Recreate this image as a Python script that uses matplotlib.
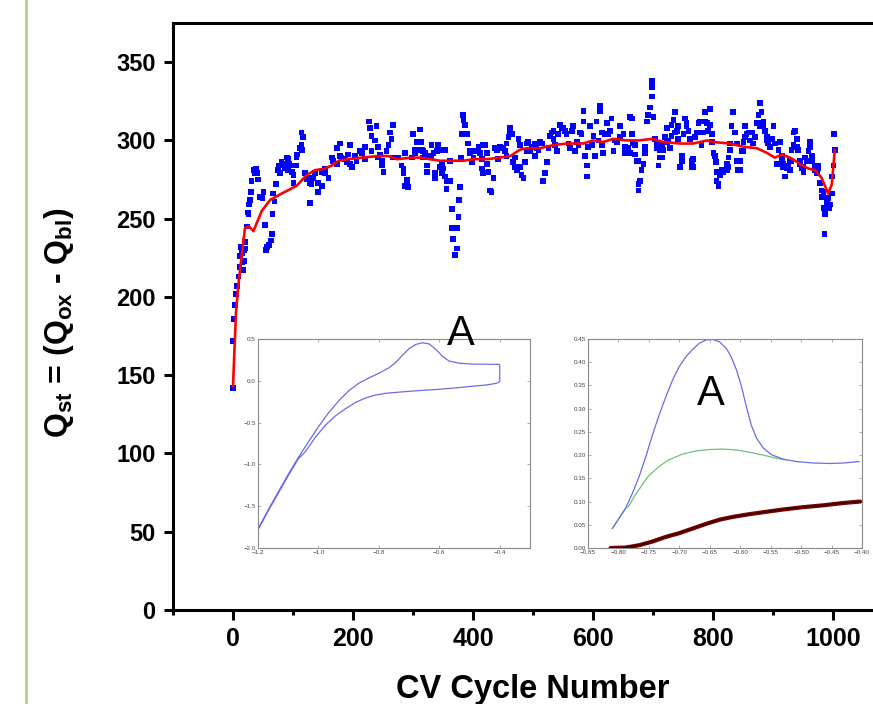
import matplotlib
matplotlib.use("Agg")
import matplotlib.pyplot as plt
from matplotlib.lines import Line2D

plt.rcParams["font.family"] = ["Liberation Sans", "DejaVu Sans"]
plt.rcParams["mathtext.fontset"] = "custom"
plt.rcParams["mathtext.rm"] = "Liberation Sans"
plt.rcParams["mathtext.bf"] = "Liberation Sans:bold"

# ---------- main data: Q_st per CV cycle ----------
cycle = [0, 0, 2, 3, 5, 7, 9, 11, 12, 13, 17, 19, 21, 23, 25, 27, 30, 31, 36, 38,
         41, 42, 45, 49, 51, 53, 55, 57, 60, 63, 65, 66, 67, 69, 72, 75, 77, 81, 86, 90,
         92, 93, 98, 101, 105, 106, 107, 112, 114, 114, 115, 117, 123, 128, 131, 137, 142, 148, 153, 159,
         165, 173, 173, 178, 181, 190, 192, 195, 198, 206, 212, 215, 220, 227, 228, 231, 231, 237, 239, 242,
         245, 248, 251, 256, 259, 262, 264, 267, 267, 281, 284, 287, 287, 290, 298, 300, 303, 306, 306, 312,
         314, 317, 323, 323, 323, 331, 334, 337, 337, 342, 345, 348, 351, 353, 353, 356, 362, 362, 365, 365,
         367, 370, 373, 373, 376, 377, 378, 380, 381, 383, 384, 387, 390, 392, 395, 398, 401, 409, 412, 415,
         417, 420, 423, 426, 428, 431, 434, 437, 442, 448, 453, 456, 459, 462, 465, 467, 470, 473, 476, 478,
         481, 484, 487, 490, 492, 498, 503, 509, 512, 517, 520, 523, 526, 531, 534, 540, 545, 551, 556, 562,
         567, 573, 578, 584, 584, 587, 590, 590, 595, 598, 603, 606, 612, 612, 615, 617, 623, 626, 631, 634,
         640, 645, 651, 653, 662, 665, 665, 667, 670, 673, 676, 676, 676, 678, 681, 684, 687, 690, 692, 695,
         698, 698, 698, 701, 703, 706, 709, 712, 715, 717, 723, 726, 728, 734, 737, 740, 742, 745, 748, 753,
         756, 762, 765, 767, 770, 776, 778, 781, 787, 790, 792, 795, 798, 801, 805, 807, 809, 812, 817, 823,
         826, 828, 831, 833, 837, 840, 842, 845, 848, 851, 853, 859, 862, 867, 873, 876, 878, 881, 884, 887,
         890, 895, 901, 903, 906, 912, 915, 917, 920, 923, 928, 931, 934, 937, 940, 942, 945, 948, 951, 956,
         959, 962, 965, 970, 973, 976, 978, 981, 983, 984, 986, 987, 990, 992, 995, 998, 998, 1001, 1002, 1003,
         # second pass through the dense band
         15, 16, 18, 20, 26, 28, 34, 37, 76, 78, 84, 92, 98, 101, 120, 126, 128, 134, 142, 148,
         153, 167, 178, 187, 195, 203, 220, 242, 248, 276, 284, 290, 292, 303, 317,
         315, 320, 326, 331, 340, 345, 348, 356, 395, 401, 406, 415, 417, 423, 440, 445, 451, 456, 462,
         470, 478, 490, 495, 503, 506, 515, 528, 534, 537, 542, 548, 553, 559, 565, 570, 576, 581, 592,
         601, 609, 615, 620, 628, 637, 645, 653, 659, 667,
         662, 670, 687, 706, 712, 715, 720, 723, 731, 731, 737, 742, 748, 751, 756, 759, 765, 767, 773,
         778, 784, 787, 795, 798, 803, 806, 809, 815, 823, 826, 828, 840, 845, 851, 853, 856, 865, 870,
         876, 878, 884, 890, 892, 898, 909, 909, 915, 917, 926, 928, 931, 934, 940, 945, 951, 953, 962,
         965, 970, 976, 981, 984, 990, 994]
q_st = [142, 172, 186, 195, 202, 207, 213, 219, 226, 232, 217, 223, 231, 245, 254, 259, 267, 274, 280, 282,
        279, 275, 264, 263, 267, 246, 230, 232, 233, 236, 240, 253, 266, 261, 272, 281, 284, 286, 282, 289,
        288, 285, 280, 273, 284, 289, 291, 295, 297, 305, 294, 302, 275, 260, 272, 279, 267, 271, 279, 276,
        289, 285, 295, 298, 289, 286, 291, 297, 283, 287, 293, 292, 296, 312, 308, 303, 293, 300, 309, 296,
        291, 287, 280, 293, 297, 305, 301, 310, 289, 284, 279, 292, 271, 275, 289, 304, 294, 299, 294, 307,
        299, 293, 289, 284, 280, 297, 292, 279, 276, 297, 294, 285, 282, 277, 294, 269, 287, 274, 256, 244,
        237, 227, 231, 244, 251, 262, 270, 289, 304, 316, 313, 310, 304, 298, 292, 286, 293, 296, 292, 282,
        279, 297, 285, 280, 268, 267, 276, 295, 288, 295, 293, 298, 302, 308, 304, 286, 283, 281, 301, 297,
        278, 276, 286, 293, 299, 296, 290, 294, 299, 274, 279, 286, 295, 305, 301, 293, 310, 308, 304, 295,
        309, 299, 305, 319, 312, 290, 284, 277, 309, 297, 290, 312, 322, 319, 305, 292, 311, 304, 314, 293,
        299, 309, 304, 296, 315, 304, 314, 298, 291, 287, 287, 272, 268, 274, 281, 285, 296, 312, 316, 321,
        328, 334, 338, 315, 301, 295, 284, 289, 297, 294, 308, 300, 295, 313, 318, 306, 301, 283, 290, 314,
        309, 301, 283, 288, 302, 311, 305, 297, 318, 311, 306, 320, 304, 292, 286, 280, 272, 278, 280, 285,
        289, 298, 309, 318, 305, 298, 281, 287, 293, 299, 309, 305, 300, 298, 311, 316, 324, 318, 312, 306,
        302, 296, 309, 298, 285, 299, 290, 285, 277, 282, 287, 294, 297, 306, 301, 294, 287, 282, 280, 287,
        293, 299, 290, 284, 279, 282, 273, 268, 264, 257, 240, 253, 260, 263, 259, 266, 277, 284, 304, 294,
        # second pass through the dense band
        228, 222, 230, 235, 253, 262, 281, 279, 283, 279, 285, 281, 284, 278, 279, 276, 273, 276, 273, 280,
        282, 287, 290, 288, 285, 290, 288, 289, 284, 289, 282, 272, 270, 292, 289,
        294, 292, 290, 289, 293, 283, 279, 274, 293, 289, 293, 288, 297, 292, 294, 296, 295, 290, 305,
        289, 283, 298, 293, 298, 295, 298, 303, 306, 297, 304, 308, 306, 298, 306, 293, 297, 304, 296,
        303, 300, 297, 304, 306, 300, 302, 292, 295, 298,
        292, 297, 292, 298, 294, 289, 302, 299, 310, 303, 305, 309, 287, 304, 311, 306, 287, 283, 305,
        312, 305, 312, 310, 299, 290, 274, 271, 281, 281, 283, 294, 287, 281, 293, 302, 304, 305, 302,
        311, 309, 309, 300, 298, 301, 294, 285, 287, 283, 284, 281, 287, 305, 296, 285, 283, 289, 296,
        287, 281, 284, 264, 267, 257, 257]

# smoothed trend (red)
trend_cycle = [0, 5, 9, 14, 20, 27, 34, 48, 62, 81, 106, 123, 137, 153, 165, 176, 192, 215, 242, 259,
               273, 298, 312, 328, 345, 367, 384, 400, 423, 445, 462, 478, 490, 512, 534, 556, 573, 584, 600, 617,
               634, 656, 678, 698, 717, 745, 767, 790, 800, 828, 850, 873, 890, 903, 915, 928, 937, 948, 959, 970,
               981, 992, 998, 1003]
trend_q = [143, 190, 208, 225, 244, 245, 242, 255, 262, 266, 271, 278, 281, 282, 284, 287, 288, 289, 290, 290,
           288, 289, 289, 288, 287, 287, 287, 288, 288, 289, 290, 294, 295, 295, 297, 298, 298, 298, 300, 299,
           301, 300, 300, 301, 299, 298, 298, 300, 299, 298, 296, 295, 292, 289, 291, 289, 287, 284, 282, 281,
           276, 266, 272, 294]

x_ticks = [0, 200, 400, 600, 800, 1000]
x_minor = [-100, 100, 300, 500, 700, 900]
y_ticks = [0, 50, 100, 150, 200, 250, 300, 350]

# ---------- inset 1: single CV loop (anodic sweep, then back) ----------
cv_e = [-1.2, -1.167, -1.133, -1.1, -1.067, -1.033, -1.0, -0.967, -0.933, -0.9, -0.867, -0.833,
        -0.8, -0.767, -0.744, -0.722, -0.7, -0.678, -0.656, -0.633, -0.611, -0.589, -0.567, -0.533,
        -0.489, -0.402, -0.4, -0.4,
        -0.411, -0.444, -0.5, -0.556, -0.611, -0.667, -0.722, -0.778, -0.811, -0.844, -0.878, -0.911,
        -0.944, -0.978, -1.011, -1.044, -1.067, -1.1, -1.133, -1.167, -1.2]
cv_i = [-1.775, -1.55, -1.33, -1.12, -0.92, -0.73, -0.55, -0.385, -0.24, -0.12, -0.03, 0.035,
        0.09, 0.155, 0.22, 0.305, 0.385, 0.435, 0.455, 0.44, 0.375, 0.29, 0.235, 0.21,
        0.2, 0.197, 0.19, -0.01,
        -0.03, -0.05, -0.068, -0.088, -0.104, -0.117, -0.132, -0.15, -0.17, -0.205, -0.26, -0.335,
        -0.42, -0.535, -0.68, -0.85, -0.935, -1.135, -1.345, -1.56, -1.78]
in1_xticks = [-1.2, -1.0, -0.8, -0.6, -0.4]
in1_yticks = [-2.0, -1.5, -1.0, -0.5, 0.0, 0.5]

# ---------- inset 2: peak, baseline and background ----------
peak_e = [-0.810, -0.799, -0.788, -0.777, -0.766, -0.755, -0.744, -0.733, -0.722, -0.711, -0.700,
          -0.689, -0.678, -0.667, -0.656, -0.645, -0.634, -0.623, -0.615, -0.606, -0.598, -0.590,
          -0.582, -0.573, -0.562, -0.549, -0.529, -0.507, -0.480, -0.452, -0.430, -0.405]
peak_i = [0.042, 0.064, 0.086, 0.118, 0.154, 0.197, 0.244, 0.287, 0.326, 0.362, 0.391,
          0.412, 0.428, 0.441, 0.448, 0.449, 0.444, 0.430, 0.412, 0.383, 0.348, 0.305,
          0.265, 0.236, 0.215, 0.201, 0.191, 0.186, 0.183, 0.182, 0.183, 0.186]
base_e = [-0.810, -0.799, -0.788, -0.783, -0.772, -0.761, -0.750, -0.733, -0.717, -0.695, -0.673,
          -0.651, -0.628, -0.606, -0.584, -0.562, -0.540, -0.524]
base_i = [0.042, 0.064, 0.086, 0.090, 0.115, 0.136, 0.156, 0.176, 0.190, 0.202, 0.209,
          0.212, 0.213, 0.211, 0.206, 0.200, 0.193, 0.190]
bg_e = [-0.813, -0.788, -0.766, -0.744, -0.722, -0.700, -0.678, -0.656, -0.634, -0.612, -0.584,
        -0.557, -0.529, -0.496, -0.463, -0.430, -0.403]
bg_i = [0.0, 0.001, 0.006, 0.014, 0.024, 0.032, 0.042, 0.052, 0.061, 0.067, 0.073,
        0.078, 0.083, 0.088, 0.092, 0.097, 0.100]
in2_xticks = [-0.85, -0.80, -0.75, -0.70, -0.65, -0.60, -0.55, -0.50, -0.45, -0.40]
in2_yticks = [0.00, 0.05, 0.10, 0.15, 0.20, 0.25, 0.30, 0.35, 0.40, 0.45]

W, H = 873, 704
fig = plt.figure(figsize=(W / 100, H / 100), dpi=100)
fig.patch.set_facecolor("white")

# slide border on the left
fig.add_artist(Line2D([26 / W, 26 / W], [0, 1], transform=fig.transFigure,
                      color="#a8c97f", lw=1.8))


def px(l, t, r, b):
    return [l / W, 1 - b / H, (r - l) / W, (b - t) / H]


ax = fig.add_axes(px(173, 23, 893, 610))
ax.scatter(cycle, q_st, marker="s", s=17, color="#0000ff", edgecolors="none", zorder=2)
ax.plot(trend_cycle, trend_q, color="#ff0000", lw=1.9, zorder=3)
ax.set_xlim(-100, 1100)
ax.set_ylim(0, 375)
ax.set_xticks(x_ticks)
ax.set_xticks(x_minor, minor=True)
ax.set_yticks(y_ticks)
for s in ax.spines.values():
    s.set_linewidth(2.2)
ax.tick_params(axis="both", which="major", direction="out", width=2.2, labelsize=17)
ax.tick_params(axis="x", which="major", length=7.5, pad=5, labelsize=18)
ax.tick_params(axis="x", which="minor", length=3.5, width=2.2)
ax.tick_params(axis="y", which="major", length=6.5, pad=6)
for lab in ax.get_xticklabels() + ax.get_yticklabels():
    lab.set_fontweight("bold")
ax.set_xlabel("CV Cycle Number", fontsize=23.5, fontweight="bold")
ax.xaxis.set_label_coords(0.5, -0.109)
ax.set_ylabel(r"$\mathbf{Q_{st}}$ = ($\mathbf{Q_{ox}}$ - $\mathbf{Q_{bl}}$)",
              fontsize=23, fontweight="bold")
ax.yaxis.set_label_coords(-0.135, 0.49)


def style_inset(a):
    a.set_facecolor("white")
    for s in a.spines.values():
        s.set_color("#8a8a8a")
        s.set_linewidth(0.8)
    a.tick_params(direction="in", length=2.5, width=0.5, color="#8a8a8a",
                  labelsize=4.5, labelcolor="#444444", pad=1.5,
                  top=True, right=True)


in1 = fig.add_axes(px(258, 339, 530, 548))
in1.plot(cv_e, cv_i, color="#6b6be6", lw=0.9)
in1.set_xlim(-1.2, -0.3)
in1.set_ylim(-2.0, 0.5)
in1.set_xticks(in1_xticks)
in1.set_yticks(in1_yticks)
in1.set_xticklabels(["\u2212%.1f" % abs(v) for v in in1_xticks])
in1.set_yticklabels([("\u2212%.1f" % abs(v)) if v < 0 else "%.1f" % v for v in in1_yticks])
style_inset(in1)

in2 = fig.add_axes(px(588, 339, 862, 548))
in2.plot(bg_e, bg_i, color="#7a0000", lw=3.0, solid_capstyle="round")
in2.plot(bg_e, bg_i, color="#3a0000", lw=1.0)
in2.plot(base_e, base_i, color="#72bf72", lw=0.9)
in2.plot(peak_e, peak_i, color="#6b6be6", lw=0.9)
in2.set_xlim(-0.85, -0.40)
in2.set_ylim(0, 0.45)
in2.set_xticks(in2_xticks)
in2.set_yticks(in2_yticks)
in2.set_xticklabels(["\u2212%.2f" % abs(v) for v in in2_xticks])
in2.set_yticklabels(["%.2f" % v for v in in2_yticks])
style_inset(in2)

fig.text(461 / W, 1 - 345 / H, "A", fontsize=30, ha="center", va="baseline")
fig.text(711 / W, 1 - 405 / H, "A", fontsize=30, ha="center", va="baseline")

fig.savefig("out.png", dpi=100, facecolor="white")
